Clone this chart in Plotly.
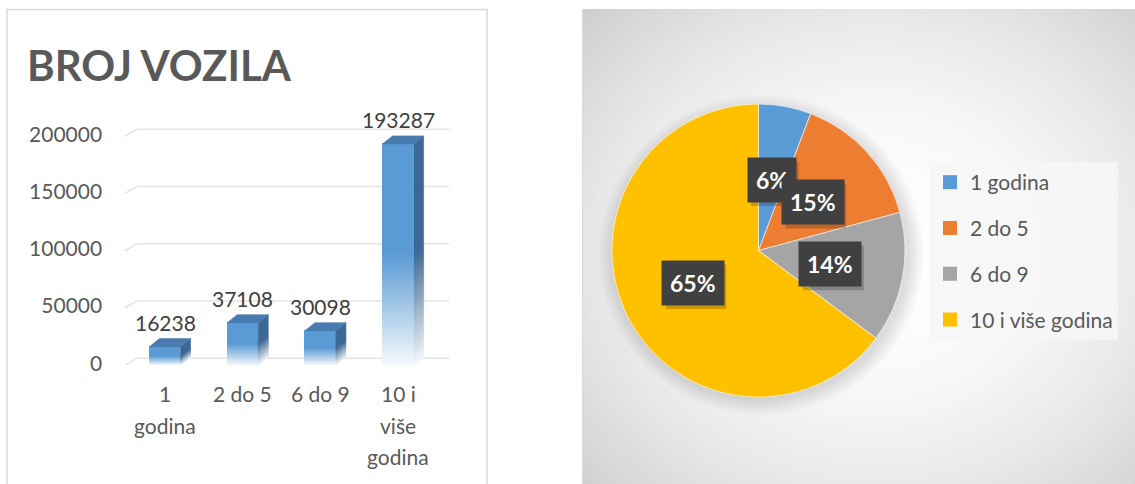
import math
import plotly.graph_objects as go

# ---------------- data ----------------
categories = ["1 godina", "2 do 5", "6 do 9", "10 i više godina"]
bar_tick_text = ["1<br>godina", "2 do 5", "6 do 9", "10 i<br>više<br>godina"]
vehicle_counts = [16238, 37108, 30098, 193287]
y_tick_values = [0, 50000, 100000, 150000, 200000]
pie_shares = [5.8, 15.0, 14.4, 64.8]
pie_colors = ["#5B9BD5", "#ED7D31", "#A5A5A5", "#FFC000"]
chart_title = "BROJ VOZILA"

# ---------------- geometry / style ----------------
W, H_REF = 1135, 484
H_FIG = 496
SY = H_REF / H_FIG
FONT = "Lato"
TXT = "#595959"


def fx(px):
    return px / W


def fy(py):
    return 1 - py / H_REF


X0_PX, STEP_PX = 165, 77.7
XR = [-0.6, 3.7]
Y_ZERO_PX, Y_PX_PER = 363, 56.9 / 50000
YR = [0, 240000]
x_dom = [fx(X0_PX + STEP_PX * XR[0]), fx(X0_PX + STEP_PX * XR[1])]
y_dom = [fy(Y_ZERO_PX - YR[0] * Y_PX_PER), fy(Y_ZERO_PX - YR[1] * Y_PX_PER)]

BAR_W = 0.4
DX = 10 / STEP_PX
DY = 8 / Y_PX_PER
GRID_DY = 7 / Y_PX_PER

FRONT = (91, 155, 213)
SIDE = (60, 104, 148)
TOP = (74, 123, 176)
FADE = 0.5
K = 30


def mix(c, m):
    return "rgb(%d,%d,%d)" % tuple(round(255 * (1 - m) + ch * m) for ch in c)


def fade_amount(t):
    if t >= FADE:
        return 1.0
    return 0.06 + 0.94 * (t / FADE)


xs = list(range(len(categories)))
fig = go.Figure()

bounds = [FADE * k / K for k in range(K + 1)] + [1.0]

# front faces: bars with a vertical fade to white
for a, b in zip(bounds[:-1], bounds[1:]):
    m = fade_amount((a + b) / 2)
    over = 0.008 if b < 1.0 else 0
    fig.add_trace(go.Bar(
        x=xs, base=[v * a for v in vehicle_counts],
        y=[v * (b - a + over) for v in vehicle_counts],
        width=BAR_W, marker=dict(color=mix(FRONT, m), line=dict(width=0)),
        hoverinfo="skip", showlegend=False))

# side faces
for a, b in zip(bounds[:-1], bounds[1:]):
    m = fade_amount((a + b) / 2)
    px_, py_ = [], []
    for i, v in zip(xs, vehicle_counts):
        x0 = i + BAR_W / 2
        x1 = x0 + DX
        lo, hi = v * a, v * b
        px_ += [x0, x0, x1, x1, x0, None]
        py_ += [lo, hi, hi + DY, lo + DY, lo, None]
    fig.add_trace(go.Scatter(x=px_, y=py_, mode="lines", fill="toself",
                             fillcolor=mix(SIDE, m), line=dict(width=0.6, color=mix(SIDE, m)),
                             hoverinfo="skip", showlegend=False))

# top faces
tx, ty = [], []
for i, v in zip(xs, vehicle_counts):
    l, r = i - BAR_W / 2, i + BAR_W / 2
    tx += [l, r, r + DX, l + DX, l, None]
    ty += [v, v, v + DY, v + DY, v, None]
fig.add_trace(go.Scatter(x=tx, y=ty, mode="lines", fill="toself",
                         fillcolor=mix(TOP, 1), line=dict(width=0.6, color=mix(TOP, 1)),
                         hoverinfo="skip", showlegend=False))

# ---------------- pie ----------------
PIE_CX, PIE_CY, PIE_R = 758.5, 249, 146.5
fig.add_trace(go.Pie(
    values=pie_shares, labels=categories, sort=False, direction="clockwise",
    rotation=0, textinfo="none", hoverinfo="label+percent",
    marker=dict(colors=pie_colors, line=dict(color="rgba(255,255,255,0.6)", width=1)),
    domain=dict(x=[fx(PIE_CX - PIE_R), fx(PIE_CX + PIE_R)],
                y=[fy(PIE_CY + PIE_R), fy(PIE_CY - PIE_R)]),
    showlegend=False))

# legend entries (one group per slice so that they can be spaced apart)
for cat, col in zip(categories, pie_colors):
    fig.add_trace(go.Scatter(x=[None], y=[None], xaxis="x3", yaxis="y3", mode="markers",
                             marker=dict(symbol="square", size=14, color=col),
                             name=cat, legendgroup=cat, showlegend=True, hoverinfo="skip"))

shapes = []
shapes.append(dict(type="rect", xref="paper", yref="paper", x0=fx(7), x1=fx(487),
                   y0=-0.06, y1=fy(9.5), line=dict(color="#D9D9D9", width=1.5),
                   fillcolor="white", layer="below"))

# right panel radial background (picture-pixel dummy axes x3/y3)
GCX, GCY, GA, GB = 875, 252, 276, 237
NG = 44
for j in range(NG, -1, -1):
    r = 0.12 + 1.45 * j / NG
    c = max(198, round(255 - 22.5 * r * r))
    shapes.append(dict(type="circle", xref="x3", yref="y3",
                       x0=GCX - GA * r, x1=GCX + GA * r, y0=GCY - GB * r, y1=GCY + GB * r,
                       fillcolor="rgb(%d,%d,%d)" % (c, c, c), line=dict(width=0), layer="below"))
# soft pie shadow
for k in range(8, 0, -1):
    ra, rb = PIE_R + 2 * k, PIE_R * SY + 2 * k
    shapes.append(dict(type="circle", xref="x3", yref="y3",
                       x0=PIE_CX + 3 - ra, x1=PIE_CX + 3 + ra, y0=PIE_CY + 4 - rb, y1=PIE_CY + 4 + rb,
                       fillcolor="rgba(0,0,0,0.016)", line=dict(width=0), layer="below"))
shapes.append(dict(type="rect", xref="paper", yref="paper", x0=fx(583), x1=1.01,
                   y0=-0.06, y1=fy(9.5), line=dict(color="#C4C4C4", width=1.2),
                   fillcolor="rgba(0,0,0,0)", layer="below"))

# 3D gridlines on the back wall
GX_FRONT = (125 - X0_PX) / STEP_PX
GX_BACK = (137 - X0_PX) / STEP_PX
GX_END = (449 - X0_PX) / STEP_PX
for t in y_tick_values:
    shapes.append(dict(type="path", xref="x", yref="y", layer="below",
                       path="M %f,%f L %f,%f L %f,%f" % (GX_FRONT, t, GX_BACK, t + GRID_DY,
                                                        GX_END, t + GRID_DY),
                       line=dict(color="#E3E3E3", width=1.5)))

annotations = []
annotations.append(dict(text="<b>%s</b>" % chart_title, xref="paper", yref="paper",
                        x=fx(25), y=fy(65), xanchor="left", yanchor="middle", showarrow=False,
                        font=dict(family=FONT, size=42, color=TXT)))
# value labels above the bars
for i, v in zip(xs, vehicle_counts):
    annotations.append(dict(text=str(v), x=i, y=v, xref="x", yref="y", yshift=24.5,
                            xanchor="center", yanchor="middle", showarrow=False,
                            font=dict(family=FONT, size=21, color="#404040")))
# category labels (wrapped like the reference, one text per line)
LINE0, LINE_STEP = 391, 31.5
for i, lab in zip(xs, bar_tick_text):
    for k, part in enumerate(lab.split("<br>")):
        annotations.append(dict(text=part, x=i, xref="x", yref="paper",
                                y=fy(LINE0 + LINE_STEP * k), xanchor="center", yanchor="middle",
                                showarrow=False, font=dict(family=FONT, size=21, color=TXT)))

# pie percentage labels in dark boxes (with a soft drop shadow)
total = sum(pie_shares)
cum = 0
for s in pie_shares:
    mid = (cum + s / 2) / total * 2 * math.pi
    cum += s
    lx = PIE_CX + 0.5 * PIE_R * math.sin(mid)
    ly = PIE_CY - 0.5 * PIE_R * SY * math.cos(mid)
    pct = round(100 * s / total)
    txt = "<b>%d%%</b>" % pct
    bw = 34 + 13.3 * len(str(pct))
    bh = 44
    shapes.append(dict(type="rect", xref="x3", yref="y3", layer="above",
                       x0=lx + 3 - bw / 2, x1=lx + 3 + bw / 2,
                       y0=ly + 4 - bh / 2, y1=ly + 4 + bh / 2,
                       fillcolor="rgba(0,0,0,0.2)", line=dict(width=0)))
    annotations.append(dict(text=txt, xref="paper", yref="paper", x=fx(lx), y=fy(ly),
                            xanchor="center", yanchor="middle", showarrow=False,
                            font=dict(family=FONT, size=23, color="white"),
                            bgcolor="#404040", borderpad=8))

fig.update_layout(
    width=W, height=H_FIG, autosize=False, margin=dict(l=0, r=0, t=0, b=0, pad=0),
    paper_bgcolor="white", plot_bgcolor="rgba(0,0,0,0)",
    barmode="overlay", bargap=0,
    xaxis=dict(domain=x_dom, range=XR, tickvals=xs, showticklabels=False,
               showgrid=False, zeroline=False, showline=False, ticks="", fixedrange=True),
    yaxis=dict(domain=y_dom, range=YR, tickvals=y_tick_values,
               ticktext=[str(t) for t in y_tick_values],
               showgrid=False, zeroline=False, showline=False,
               ticks="outside", ticklen=11, tickcolor="rgba(0,0,0,0)", ticklabelshift=-2,
               tickfont=dict(family=FONT, size=21, color=TXT), fixedrange=True),
    xaxis3=dict(domain=[fx(583), 1], range=[583, 1135], anchor="y3", visible=False,
                fixedrange=True),
    yaxis3=dict(domain=[0, fy(9.5)], range=[H_REF, 9.5], anchor="x3", visible=False,
                fixedrange=True),
    legend=dict(x=fx(930), y=fy(161), xanchor="left", yanchor="top",
                bgcolor="rgba(246,246,246,0.9)", font=dict(family=FONT, size=21, color=TXT),
                tracegroupgap=15.5, itemclick=False, itemdoubleclick=False),
    shapes=shapes, annotations=annotations,
)

fig.write_html("out.html", config={"responsive": False, "displayModeBar": False})
